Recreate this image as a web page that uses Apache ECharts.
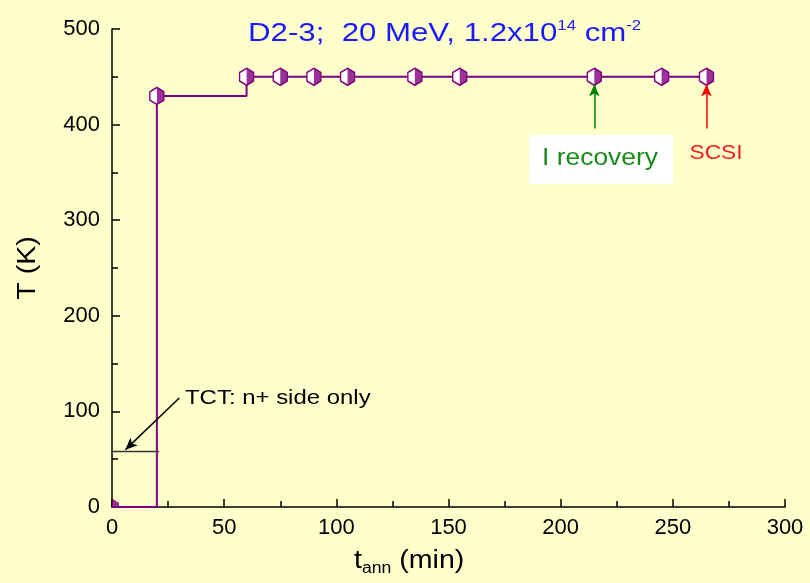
<!DOCTYPE html>
<html><head><meta charset="utf-8">
<script src="https://cdn.jsdelivr.net/npm/echarts@6/dist/echarts.min.js"></script>
<style>html,body{margin:0;padding:0;background:#FFFFCC}#c{width:810px;height:583px}</style>
</head><body><div id="c"></div>
<script>
// data
const tMin = [0, 20, 60, 75, 90, 105, 135, 155, 215, 245, 265];
const tempK = [0, 430, 450, 450, 450, 450, 450, 450, 450, 450, 450];
const tctLevel = [[0, 58], [21, 58]];
const tctArrow = [[30, 114], [6, 60]];
const recoveryArrow = [[215, 396], [215, 442]];
const scsiArrow = [[265, 396], [265, 442]];
const xTicks = [0, 50, 100, 150, 200, 250, 300];
const yTicks = [0, 100, 200, 300, 400, 500];

const FONT = 'Liberation Sans, Arial, sans-serif';
const PURPLE = '#800080';
const hex = 'path://M50,0 L93.3,25 L93.3,75 L50,100 L6.7,75 L6.7,25 Z';
const halfHex = 'path://M0,0 L43.3,25 L43.3,75 L0,100 Z';
const quarterHex = 'path://M0,0 L43.3,25 L43.3,50 L0,50 Z';

// the origin point is clipped by the axes in the reference: only its top-right quarter shows
const linePts = tMin.map((t, i) => i === 0 ? { value: [t, tempK[i]], symbol: 'none' } : [t, tempK[i]]);
const halfPts = tMin.map((t, i) => i === 0
  ? { value: [t, tempK[i]], symbol: quarterHex, symbolSize: [7, 8.5], symbolOffset: [3.5, -4.25] }
  : [t, tempK[i]]);

const chart = echarts.init(document.getElementById('c'));
chart.setOption({
  backgroundColor: '#FFFFCC',
  animation: false,
  grid: { left: 112, right: 25, top: 29, bottom: 76, outerBoundsMode: 'none', containLabel: false },
  xAxis: {
    type: 'value', min: 0, max: 300, interval: 50,
    axisLine: { lineStyle: { color: '#000', width: 1.5 } },
    axisTick: { inside: true, length: 8, lineStyle: { color: '#000', width: 1.5 } },
    minorTick: { show: true, splitNumber: 2, length: 6, lineStyle: { color: '#000', width: 1.5 } },
    axisLabel: { color: '#000', fontSize: 22, fontFamily: FONT, margin: 10 },
    splitLine: { show: false }
  },
  yAxis: {
    type: 'value', min: 0, max: 500, interval: 100,
    axisLine: { lineStyle: { color: '#000', width: 1.5 } },
    axisTick: { inside: true, length: 8, lineStyle: { color: '#000', width: 1.5 } },
    minorTick: { show: true, splitNumber: 2, length: 6, lineStyle: { color: '#000', width: 1.5 } },
    axisLabel: { color: '#000', fontSize: 22, fontFamily: FONT, margin: 12 },
    splitLine: { show: false }
  },
  series: [
    {
      type: 'line', data: linePts, step: 'end', clip: true,
      symbol: hex, symbolSize: [14, 17],
      lineStyle: { color: PURPLE, width: 2 },
      itemStyle: { color: '#fff', borderColor: PURPLE, borderWidth: 1.5 },
      z: 3
    },
    {
      type: 'scatter', data: halfPts, symbol: halfHex, symbolSize: [7, 17], symbolOffset: [3.5, 0],
      itemStyle: { color: PURPLE }, z: 4, clip: false
    },
    {
      type: 'line', data: tctLevel, symbol: 'none',
      lineStyle: { color: '#333', width: 1.5 }, z: 2,
      markLine: {
        silent: true, symbol: ['none', 'arrow'], symbolSize: [8, 12],
        label: { show: false },
        data: [
          [{ coord: tctArrow[0], lineStyle: { color: '#000', width: 1.5, type: 'solid' } }, { coord: tctArrow[1] }],
          [{ coord: recoveryArrow[0], lineStyle: { color: '#008000', width: 1.5, type: 'solid' } }, { coord: recoveryArrow[1] }],
          [{ coord: scsiArrow[0], lineStyle: { color: '#ff0000', width: 1.5, type: 'solid' } }, { coord: scsiArrow[1] }]
        ]
      }
    }
  ],
  graphic: [
    { type: 'text', x: 248, y: 34, scaleX: 1.2, style: {
        text: 'D2-3;  20 MeV, 1.2x10{sup|14} cm{sup|-2}', fill: '#1a1aff', font: '26px ' + FONT,
        textAlign: 'left', textVerticalAlign: 'middle',
        rich: { sup: { fontSize: 14, fontFamily: FONT, fill: '#1a1aff', verticalAlign: 'top', padding: [0, 0, 16, 0] } }
      }, z: 5 },
    { type: 'text', x: 28, y: 268, rotation: Math.PI / 2, scaleX: 1.1, style: {
        text: 'T (K)', fill: '#000', font: '26px ' + FONT, textAlign: 'center', textVerticalAlign: 'middle'
      }, z: 5 },
    { type: 'rect', shape: { x: 529, y: 135, width: 144, height: 49 }, style: { fill: '#ffffff' }, z: 1 },
    { type: 'text', x: 600, y: 158, scaleX: 1.1, style: { text: 'I recovery', fill: '#1a8a1a', font: '24px ' + FONT, textAlign: 'center', textVerticalAlign: 'middle' }, z: 5 },
    { type: 'text', x: 716, y: 153, scaleX: 1.08, style: { text: 'SCSI', fill: '#ff1a1a', font: '21px ' + FONT, textAlign: 'center', textVerticalAlign: 'middle' }, z: 5 },
    { type: 'text', x: 185, y: 398, scaleX: 1.14, style: { text: 'TCT: n+ side only', fill: '#000', font: '21px ' + FONT, textAlign: 'left', textVerticalAlign: 'middle' }, z: 5 },
    { type: 'text', x: 354, y: 561, scaleX: 1.1, style: {
        text: '{t|t}{s|ann}{t| (min)}', fill: '#000', textVerticalAlign: 'middle',
        rich: {
          t: { fontSize: 26, fontFamily: FONT, fill: '#000' },
          s: { fontSize: 16, fontFamily: FONT, fill: '#000', verticalAlign: 'bottom', padding: [16, 0, 0, 0] }
        }
      }, z: 5 }
  ]
});
</script></body></html>
